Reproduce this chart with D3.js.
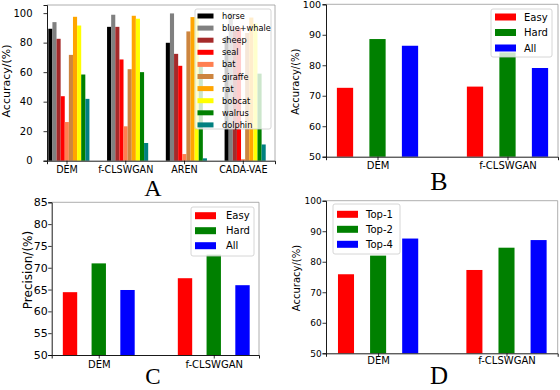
<!DOCTYPE html>
<html>
<head>
<meta charset="utf-8">
<script src="https://cdn.jsdelivr.net/npm/d3@7"></script>
<style>
  body { margin: 0; background: #fff; }
  svg { display: block; font-family: "DejaVu Sans", sans-serif; }
  .lab { font-family: "Liberation Serif", "DejaVu Serif", serif; }
</style>
</head>
<body>
<svg width="560" height="390"></svg>
<script>
// ---- panel A: per-animal accuracy for each method
const methodsA = ['DEM', 'f-CLSWGAN', 'AREN', 'CADA-VAE'];
const animals = ['horse', 'blue+whale', 'sheep', 'seal', 'bat', 'giraffe', 'rat', 'bobcat', 'walrus', 'dolphin'];
const animalColors = ['#000000', '#808080', '#a52a2a', '#ff0000', '#ff7f50', '#cd853f', '#ffa500', '#ffff00', '#008000', '#008080'];
const demA      = [89.4, 93.9, 82.6, 43.7, 26.2, 71.7, 97.5, 91.6, 58.4, 41.9];
const fclswganA = [90.7, 98.9, 90.7, 68.6, 23.3, 62.0, 98.2, 96.2, 60.0, 12.0];
const arenA     = [79.9, 99.8, 72.4, 64.3, 4.5, 87.6, 97.3, 97.0, 64.0, 1.6];
const cadaA     = [84.0, 100.0, 88.0, 90.0, 1.0, 86.5, 97.0, 93.0, 59.0, 11.0];

// ---- panels B, C, D
const methods2 = ['DEM', 'f-CLSWGAN'];
const levels = ['Easy', 'Hard', 'All'];
const tops = ['Top-1', 'Top-2', 'Top-4'];
const rgb = ['#ff0000', '#008000', '#0000ff'];
const accB_dem = [72.6, 88.6, 86.4];
const accB_fcl = [73.0, 84.2, 79.1];
const precC_dem = [64.4, 71.0, 64.9];
const precC_fcl = [67.6, 73.0, 66.0];
const accD_dem = [75.9, 82.0, 87.6];
const accD_fcl = [77.3, 84.6, 87.1];

const ticksA = [0, 20, 40, 60, 80, 100];
const ticksB = [50, 60, 70, 80, 90, 100];
const ticksC = [50, 55, 60, 65, 70, 75, 80, 85];
const ticksD = [50, 60, 70, 80, 90, 100];

const svg = d3.select('svg');

function panel(cfg) {
  const g = svg.append('g');
  const x = d3.scaleLinear().domain(cfg.xdom).range(cfg.xr);
  const y = d3.scaleLinear().domain(cfg.ydom).range(cfg.yr);

  // bars
  cfg.rows.forEach((vals, gi) => {
    g.selectAll(null).data(vals).enter().append('rect')
      .attr('x', (d, j) => x(cfg.pos(gi, j) - cfg.bw / 2))
      .attr('width', x(cfg.bw) - x(0))
      .attr('y', d => y(d))
      .attr('height', d => y(cfg.ydom[0]) - y(d))
      .attr('fill', (d, j) => cfg.colors[j]);
  });

  // frame
  const [x0, x1] = cfg.xr, [y0, y1] = cfg.yr;
  g.append('path').attr('d', `M${x0},${y1}H${x1}V${y0}`).attr('fill', 'none').attr('stroke', '#999').attr('stroke-width', 0.8);
  const ya = g.append('g').attr('transform', `translate(${x0},0)`)
    .call(d3.axisLeft(y).tickValues(cfg.yticks).tickSize(3.5).tickPadding(cfg.ypad).tickFormat(d3.format('d')));
  const xa = g.append('g').attr('transform', `translate(0,${y0})`)
    .call(d3.axisBottom(x).tickValues(cfg.xticks).tickSize(3.5).tickPadding(cfg.xpad).tickFormat((d, i) => cfg.xlabels[i]));
  [ya, xa].forEach(a => {
    a.select('.domain').attr('stroke', '#000').attr('stroke-width', 0.9);
    a.selectAll('.tick line').attr('stroke', '#000').attr('stroke-width', 0.8);
    a.selectAll('text').attr('fill', '#000').style('font-family', '"DejaVu Sans", sans-serif');
  });
  ya.selectAll('text').style('font-size', cfg.ytf + 'px');
  xa.selectAll('text').style('font-size', cfg.xtf + 'px');

  // y label
  g.append('text')
    .attr('transform', `translate(${cfg.ylx},${cfg.yly}) rotate(-90)`)
    .attr('text-anchor', 'middle').attr('dominant-baseline', 'central')
    .style('font-size', cfg.ylf + 'px').text(cfg.ylabel);

  // legend
  const L = cfg.legend;
  const lg = g.append('g');
  lg.append('rect').attr('x', L.x).attr('y', L.y).attr('width', L.w).attr('height', L.h)
    .attr('rx', 2).attr('fill', '#fff').attr('fill-opacity', 0.8).attr('stroke', '#ccc').attr('stroke-width', 0.8);
  cfg.names.forEach((n, i) => {
    const cy = L.y0 + i * L.step;
    lg.append('rect').attr('x', L.sx).attr('y', cy - L.sh / 2).attr('width', L.sw).attr('height', L.sh).attr('fill', cfg.colors[i]);
    lg.append('text').attr('x', L.tx).attr('y', cy).attr('dominant-baseline', 'central')
      .style('font-size', L.fs + 'px').text(n);
  });

  // panel letter
  svg.append('text').attr('class', 'lab').attr('x', cfg.letter[0]).attr('y', cfg.letter[1])
    .attr('text-anchor', 'middle').style('font-size', cfg.letter[3] + 'px').text(cfg.letter[2]);
}

// A
const bwA = 0.07;
panel({
  rows: [demA, fclswganA, arenA, cadaA],
  colors: animalColors, names: animals,
  bw: bwA, pos: (gi, j) => gi + bwA / 2 + j * bwA,
  xdom: [-0.0221, 3.858], xr: [47, 275],
  xticks: methodsA.map((m, i) => i + 0.31), xlabels: methodsA,
  ydom: [0, 105.5], yr: [160.7, 5], yticks: ticksA, ypad: 11, xpad: 2,
  ytf: 10, xtf: 9.6, ylf: 11, ylabel: 'Accuracy/(%)', ylx: 6, yly: 81,
  legend: {x: 195, y: 9, w: 76, h: 120, y0: 16, step: 12.1, sx: 197.5, sw: 16, sh: 5, tx: 222, fs: 8.2},
  letter: [153, 196, 'A', 24]
});

// B
panel({
  rows: [accB_dem, accB_fcl],
  colors: rgb, names: levels,
  bw: 0.5, pos: (gi, j) => gi * 4 + j,
  xdom: [-0.585, 6.554], xr: [326, 558],
  xticks: [1, 5], xlabels: methods2,
  ydom: [50, 100], yr: [156.7, 4.3], yticks: ticksB, ypad: 1.5, xpad: 1.3,
  ytf: 9.5, xtf: 10, ylf: 10, ylabel: 'Accuracy/(%)', ylx: 295.5, yly: 81.7,
  legend: {x: 491, y: 9, w: 61, h: 48, y0: 17, step: 15.5, sx: 495, sw: 21, sh: 7, tx: 524, fs: 10},
  letter: [439, 190, 'B', 26]
});

// C
panel({
  rows: [precC_dem, precC_fcl],
  colors: rgb, names: levels,
  bw: 0.5, pos: (gi, j) => gi * 4 + j,
  xdom: [-0.637, 6.574], xr: [51.7, 259],
  xticks: [1, 5], xlabels: methods2,
  ydom: [50, 85], yr: [355, 202.3], yticks: ticksC, ypad: 0.5, xpad: 2,
  ytf: 11, xtf: 10, ylf: 12, ylabel: 'Precision/(%)', ylx: 27.5, yly: 270,
  legend: {x: 191, y: 207, w: 63, h: 49, y0: 215.7, step: 15, sx: 195, sw: 21, sh: 7, tx: 226, fs: 10},
  letter: [153, 384, 'C', 23]
});

// D
panel({
  rows: [accD_dem, accD_fcl],
  colors: rgb, names: tops,
  bw: 0.5, pos: (gi, j) => gi * 4 + j,
  xdom: [-0.623, 6.595], xr: [326, 557.7],
  xticks: [1, 5], xlabels: methods2,
  ydom: [50, 100], yr: [353.3, 200.7], yticks: ticksD, ypad: 0.8, xpad: 0.5,
  ytf: 9, xtf: 10, ylf: 10, ylabel: 'Accuracy/(%)', ylx: 296, yly: 278,
  legend: {x: 333, y: 204, w: 67, h: 50, y0: 214.3, step: 15, sx: 337, sw: 21, sh: 7, tx: 366, fs: 10},
  letter: [439, 383.5, 'D', 25]
});
</script>
</body>
</html>
